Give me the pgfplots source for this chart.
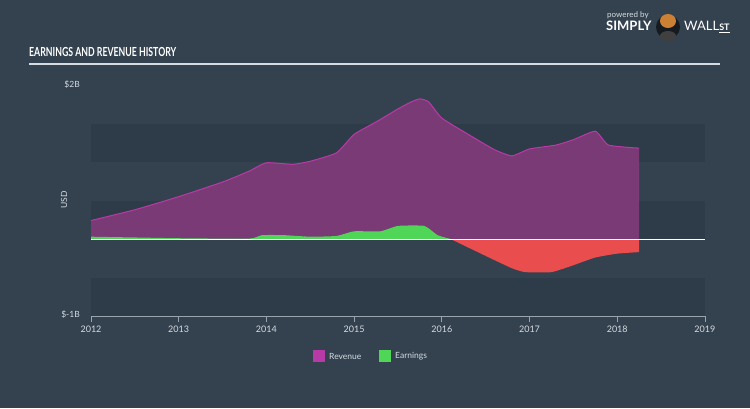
\documentclass[border=0pt]{standalone}
\usepackage{pgfplots}
\pgfplotsset{compat=1.18}
\usepackage{fontspec}
\setmainfont{Lato}
\definecolor{bg}{HTML}{344250}
\definecolor{band}{HTML}{2E3B48}
\definecolor{txt}{HTML}{D5DBE1}
\definecolor{revfill}{HTML}{7A3A76}
\definecolor{revline}{HTML}{B83AA6}
\definecolor{earng}{HTML}{4FD657}
\definecolor{earnr}{HTML}{EA4D4D}
\definecolor{axl}{HTML}{9AA4AE}
\begin{document}
\begin{tikzpicture}
\begin{scope}[x=1pt,y=1pt]
\fill[bg] (0,0) rectangle (750,408);
% title
\node[anchor=base west,inner sep=0,text=white,font=\bfseries\fontsize{12.5}{12.5}\selectfont] at (29,351) {\scalebox{0.70}[1]{EARNINGS AND REVENUE HISTORY}};
\draw[color=txt,line width=1.4pt] (29,344) -- (720,344);
% logo
\node[anchor=base west,inner sep=0,text=txt,font=\fontsize{8}{8}\selectfont] at (607,390) {powered by};
\node[anchor=base west,inner sep=0,text=white,font=\bfseries\fontsize{13}{13}\selectfont] at (606,377) {SIMPLY};
\fill[black!60!bg] (668,381) circle (12);
\fill[brown!80!orange] (668,387) ellipse (8 and 7);
\fill[black!75] (668,372) ellipse (8 and 5);
\node[anchor=base west,inner sep=0,text=white,font=\fontsize{13}{13}\selectfont] at (684,377) {WALL\underline{\smash{\bfseries\fontsize{9}{9}\selectfont ST}}};
% y labels
\node[anchor=east,inner sep=0,text=txt,font=\fontsize{8.5}{8.5}\selectfont] at (80,323) {\$2B};
\node[anchor=east,inner sep=0,text=txt,font=\fontsize{8.5}{8.5}\selectfont] at (80,93) {\$-1B};
\node[rotate=90,inner sep=0,text=txt,font=\fontsize{8.5}{8.5}\selectfont] at (64,208) {USD};
% legend
\fill[revline] (313,46) rectangle (325,58);
\node[anchor=west,inner sep=0,text=txt,font=\fontsize{8.5}{8.5}\selectfont] at (329,52) {Revenue};
\fill[earng] (379,46) rectangle (391,58);
\node[anchor=west,inner sep=0,text=txt,font=\fontsize{8.5}{8.5}\selectfont] at (395,52) {Earnings};
\end{scope}
\begin{axis}[
  at={(91pt,92pt)}, anchor=south west,
  scale only axis, width=614pt, height=231pt,
  xmin=2012, xmax=2019, ymin=-1, ymax=2,
  axis line style={draw=none},
  axis x line*=bottom,
  xtick={2012,...,2019},
  xticklabel style={text=txt,font=\fontsize{9}{9}\selectfont,/pgf/number format/1000 sep={}},
  /pgf/number format/assume math mode=true,
  major tick length=6pt,
  xtick style={draw=axl,line width=0.8pt},
  tick align=outside,
  ytick=\empty,
  clip=false,
]
\fill[band] (axis cs:2012,1) rectangle (axis cs:2019,1.5);
\fill[band] (axis cs:2012,0) rectangle (axis cs:2019,0.5);
\fill[band] (axis cs:2012,-1) rectangle (axis cs:2019,-0.5);
\draw[axl,line width=0.8pt] (axis cs:2012,-1) -- (axis cs:2019,-1);
\addplot[draw=none,fill=revfill,smooth,tension=0.3] coordinates {
(2012,0.24) (2012.5,0.38) (2013,0.55) (2013.5,0.74) (2013.8,0.88) (2014,0.99) (2014.3,0.97) (2014.5,1.01) (2014.8,1.12) (2015,1.36) (2015.25,1.52) (2015.5,1.69) (2015.65,1.78) (2015.75,1.82) (2015.85,1.78) (2016,1.57) (2016.3,1.36) (2016.6,1.16) (2016.8,1.08) (2017,1.17) (2017.3,1.22) (2017.5,1.29) (2017.75,1.40) (2017.9,1.22) (2018.25,1.18)} \closedcycle;
\addplot[revline,line width=1pt,smooth,tension=0.3] coordinates {
(2012,0.24) (2012.5,0.38) (2013,0.55) (2013.5,0.74) (2013.8,0.88) (2014,0.99) (2014.3,0.97) (2014.5,1.01) (2014.8,1.12) (2015,1.36) (2015.25,1.52) (2015.5,1.69) (2015.65,1.78) (2015.75,1.82) (2015.85,1.78) (2016,1.57) (2016.3,1.36) (2016.6,1.16) (2016.8,1.08) (2017,1.17) (2017.3,1.22) (2017.5,1.29) (2017.75,1.40) (2017.9,1.22) (2018.25,1.18)};
\addplot[draw=none,fill=earng,smooth,tension=0.3] coordinates {
(2012,0.03) (2012.5,0.02) (2013,0.01) (2013.8,0.005) (2013.95,0.05) (2014.2,0.05) (2014.5,0.03) (2014.8,0.04) (2015,0.10) (2015.3,0.10) (2015.5,0.17) (2015.8,0.17) (2015.95,0.05) (2016.1,0)} \closedcycle;
\addplot[draw=none,fill=earnr,smooth,tension=0.3] coordinates {
(2016.1,0) (2016.5,-0.22) (2016.8,-0.38) (2016.95,-0.43) (2017.25,-0.43) (2017.5,-0.34) (2017.75,-0.24) (2018,-0.19) (2018.25,-0.17)} \closedcycle;
\draw[white,line width=1pt] (axis cs:2012,0) -- (axis cs:2019,0);
\end{axis}
\end{tikzpicture}
\end{document}
